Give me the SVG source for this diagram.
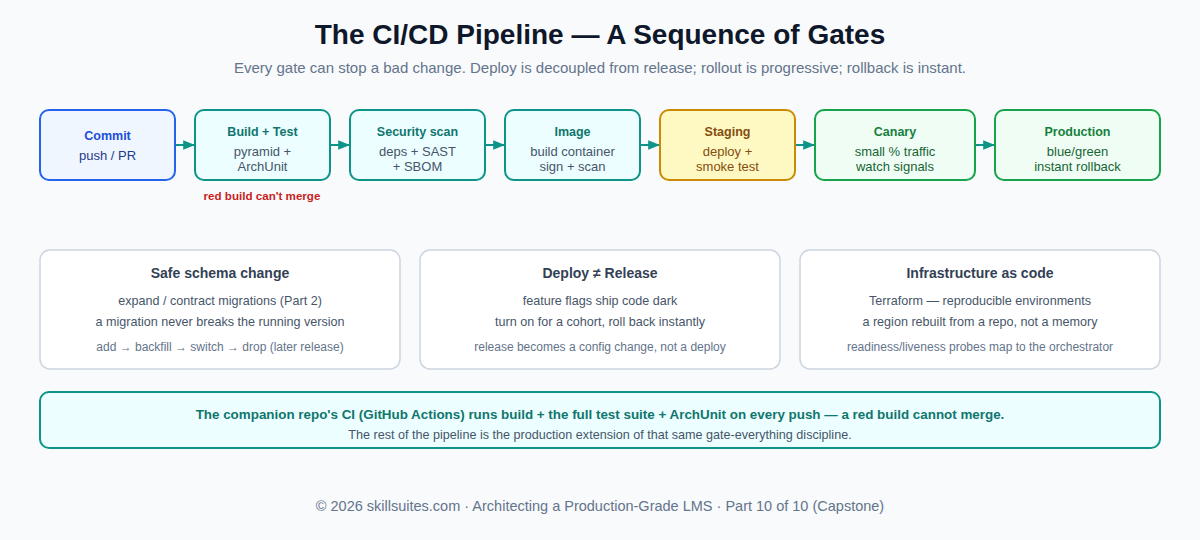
<svg xmlns="http://www.w3.org/2000/svg" width="1200" height="540" viewBox="0 0 1200 540">
<defs>
<marker id="arr" viewBox="0 0 10 10" refX="9" refY="5" markerWidth="6" markerHeight="6" orient="auto"><path d="M0,1 L10,5 L0,9 z" fill="#0d9488"/></marker>
<style>
text{font-family:"Liberation Sans",Arial,sans-serif;text-anchor:middle}
.title{font-size:28px;font-weight:700;fill:#0f172a}
.sub{font-size:15px;fill:#64748b}
.nt{font-size:12.5px;font-weight:700}
.nb{font-size:13px}
.blue rect{fill:#eff6ff;stroke:#2563eb;stroke-width:2}
.blue .nt{fill:#1d4ed8}.blue .nb{fill:#1e3a8a}
.teal rect{fill:#ecfeff;stroke:#0d9488;stroke-width:2}
.teal .nt{fill:#0f766e}.teal .nb{fill:#475569}
.amber rect{fill:#fef9c3;stroke:#ca8a04;stroke-width:2}
.amber .nt{fill:#854d0e}.amber .nb{fill:#854d0e}
.green rect{fill:#f0fdf4;stroke:#16a34a;stroke-width:2}
.green .nt{fill:#15803d}.green .nb{fill:#166534}
.card rect{fill:#ffffff;stroke:#cbd5e1;stroke-width:1.5}
.ct{font-size:14px;font-weight:700;fill:#334155}
.cb{font-size:12.6px;fill:#475569}
.cs{font-size:12px;fill:#64748b}
.conn line{stroke:#0d9488;stroke-width:2;marker-end:url(#arr)}
</style>
</defs>
<rect width="1200" height="540" fill="#f8fafc"/>
<text x="600" y="44" class="title">The CI/CD Pipeline — A Sequence of Gates</text>
<text x="600" y="73" class="sub">Every gate can stop a bad change. Deploy is decoupled from release; rollout is progressive; rollback is instant.</text>

<g class="conn">
<line x1="175" y1="145" x2="194" y2="145"/>
<line x1="330" y1="145" x2="349" y2="145"/>
<line x1="485" y1="145" x2="504" y2="145"/>
<line x1="640" y1="145" x2="659" y2="145"/>
<line x1="795" y1="145" x2="814" y2="145"/>
<line x1="975" y1="145" x2="994" y2="145"/>
</g>

<g id="commit" class="blue"><rect x="40" y="110" width="135" height="70" rx="9"/><text x="107.5" y="140" class="nt">Commit</text><text x="107.5" y="160" class="nb">push / PR</text></g>
<g id="build" class="teal"><rect x="195" y="110" width="135" height="70" rx="9"/><text x="262.5" y="136" class="nt">Build + Test</text><text x="262.5" y="156" class="nb">pyramid +</text><text x="262.5" y="171" class="nb">ArchUnit</text></g>
<g id="security" class="teal"><rect x="350" y="110" width="135" height="70" rx="9"/><text x="417.5" y="136" class="nt">Security scan</text><text x="417.5" y="156" class="nb">deps + SAST</text><text x="417.5" y="171" class="nb">+ SBOM</text></g>
<g id="image" class="teal"><rect x="505" y="110" width="135" height="70" rx="9"/><text x="572.5" y="136" class="nt">Image</text><text x="572.5" y="156" class="nb">build container</text><text x="572.5" y="171" class="nb">sign + scan</text></g>
<g id="staging" class="amber"><rect x="660" y="110" width="135" height="70" rx="9"/><text x="727.5" y="136" class="nt">Staging</text><text x="727.5" y="156" class="nb">deploy +</text><text x="727.5" y="171" class="nb">smoke test</text></g>
<g id="canary" class="green"><rect x="815" y="110" width="160" height="70" rx="9"/><text x="895" y="136" class="nt">Canary</text><text x="895" y="156" class="nb">small % traffic</text><text x="895" y="171" class="nb">watch signals</text></g>
<g id="production" class="green"><rect x="995" y="110" width="165" height="70" rx="9"/><text x="1077.5" y="136" class="nt">Production</text><text x="1077.5" y="156" class="nb">blue/green</text><text x="1077.5" y="171" class="nb">instant rollback</text></g>

<g id="gate-note"><text x="262" y="200" style="font-size:11.6px;font-weight:700;fill:#c81e1e">red build can't merge</text></g>

<g id="schema" class="card"><rect x="40" y="250" width="360" height="119" rx="10"/><text x="220" y="278" class="ct">Safe schema change</text><text x="220" y="305" class="cb">expand / contract migrations (Part 2)</text><text x="220" y="326" class="cb">a migration never breaks the running version</text><text x="220" y="351" class="cs">add → backfill → switch → drop (later release)</text></g>
<g id="deploy" class="card"><rect x="420" y="250" width="360" height="119" rx="10"/><text x="600" y="278" class="ct">Deploy ≠ Release</text><text x="600" y="305" class="cb">feature flags ship code dark</text><text x="600" y="326" class="cb">turn on for a cohort, roll back instantly</text><text x="600" y="351" class="cs">release becomes a config change, not a deploy</text></g>
<g id="iac" class="card"><rect x="800" y="250" width="360" height="119" rx="10"/><text x="980" y="278" class="ct">Infrastructure as code</text><text x="980" y="305" class="cb">Terraform — reproducible environments</text><text x="980" y="326" class="cb">a region rebuilt from a repo, not a memory</text><text x="980" y="351" class="cs">readiness/liveness probes map to the orchestrator</text></g>

<g id="summary"><rect x="40" y="392" width="1120" height="56" rx="9" fill="#ecfeff" stroke="#0d9488" stroke-width="2"/><text x="600" y="419" style="font-size:13.4px;font-weight:700;fill:#0f766e">The companion repo's CI (GitHub Actions) runs build + the full test suite + ArchUnit on every push — a red build cannot merge.</text><text x="600" y="439" style="font-size:12.6px;fill:#475569">The rest of the pipeline is the production extension of that same gate-everything discipline.</text></g>

<text x="600" y="511" style="font-size:14.5px;fill:#64748b">© 2026 skillsuites.com · Architecting a Production-Grade LMS · Part 10 of 10 (Capstone)</text>
</svg>
